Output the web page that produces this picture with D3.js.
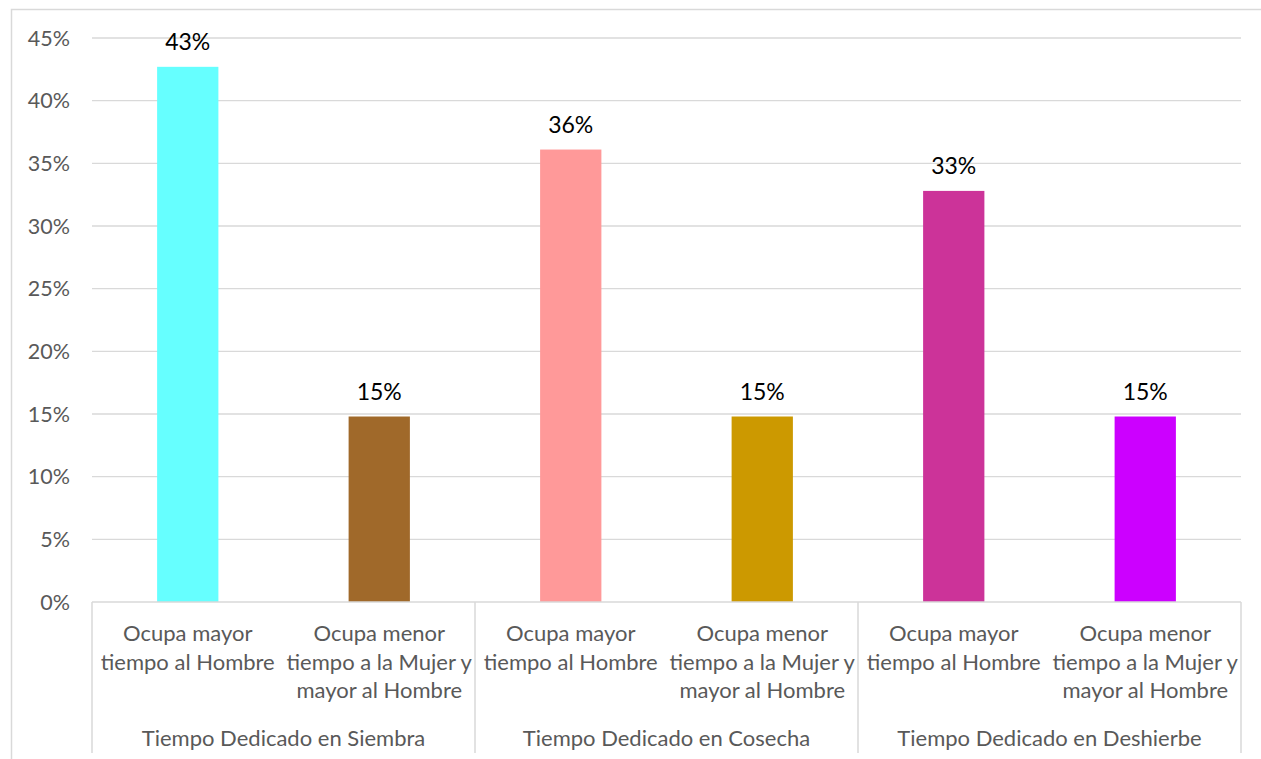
<!DOCTYPE html>
<html>
<head>
<meta charset="utf-8">
<script src="https://cdn.jsdelivr.net/npm/d3@7"></script>
<style>
  body { margin: 0; background: #fff; }
  svg text { font-family: Lato, "Open Sans", sans-serif; }
</style>
</head>
<body>
<svg id="chart" width="1261" height="759"></svg>
<script>
const groups = ["Tiempo Dedicado en Siembra", "Tiempo Dedicado en Cosecha", "Tiempo Dedicado en Deshierbe"];
const subLabels = [["Ocupa mayor", "tiempo al Hombre"], ["Ocupa menor", "tiempo a la Mujer y", "mayor al Hombre"]];
const values = [0.427, 0.148, 0.361, 0.148, 0.328, 0.148];
const labels = ["43%", "15%", "36%", "15%", "33%", "15%"];
const colors = ["#66FFFF", "#A0692A", "#FF9999", "#CC9900", "#CC3399", "#CC00FF"];
const yTicks = [0, 0.05, 0.1, 0.15, 0.2, 0.25, 0.3, 0.35, 0.4, 0.45];

const svg = d3.select("#chart");
const margin = {left: 92, right: 20, top: 38, bottom: 157};
const width = 1261, height = 759;

// outer chart border (right/bottom are cut off in the picture)
svg.append("rect")
    .attr("x", 11.5).attr("y", 9.5)
    .attr("width", 1300).attr("height", 800)
    .attr("fill", "none").attr("stroke", "#d9d9d9").attr("stroke-width", 1.5);

const x = d3.scaleBand()
    .domain(d3.range(values.length))
    .range([margin.left, width - margin.right])
    .paddingInner(0.68).paddingOuter(0.34);

const y = d3.scaleLinear()
    .domain([0, 0.45])
    .range([height - margin.bottom, margin.top]);

// gridlines
svg.append("g")
  .selectAll("line")
  .data(yTicks.slice(1))
  .join("line")
    .attr("x1", margin.left).attr("x2", width - margin.right)
    .attr("y1", d => y(d)).attr("y2", d => y(d))
    .attr("stroke", "#d9d9d9").attr("stroke-width", 1.3);

// y tick labels
svg.append("g")
  .selectAll("text")
  .data(yTicks)
  .join("text")
    .attr("x", 70).attr("y", d => y(d))
    .attr("dy", "0.35em")
    .attr("text-anchor", "end")
    .attr("font-size", 21.5)
    .attr("fill", "#595959")
    .text(d3.format(".0%"));

// bars
svg.append("g")
  .selectAll("rect")
  .data(values)
  .join("rect")
    .attr("x", (d, i) => x(i))
    .attr("y", d => y(d))
    .attr("width", x.bandwidth())
    .attr("height", d => y(0) - y(d))
    .attr("fill", (d, i) => colors[i]);

// data labels
svg.append("g")
  .selectAll("text")
  .data(values)
  .join("text")
    .attr("x", (d, i) => x(i) + x.bandwidth() / 2)
    .attr("y", d => y(d) - 17)
    .attr("text-anchor", "middle")
    .attr("font-size", 23)
    .attr("fill", "#000")
    .text((d, i) => labels[i]);

// x axis line
svg.append("line")
    .attr("x1", margin.left).attr("x2", width - margin.right)
    .attr("y1", y(0)).attr("y2", y(0))
    .attr("stroke", "#d9d9d9").attr("stroke-width", 1.5);

// group separators
const groupW = (width - margin.right - margin.left) / groups.length;
svg.append("g")
  .selectAll("line")
  .data(d3.range(groups.length + 1))
  .join("line")
    .attr("x1", d => margin.left + d * groupW).attr("x2", d => margin.left + d * groupW)
    .attr("y1", y(0)).attr("y2", 753)
    .attr("stroke", "#d9d9d9").attr("stroke-width", 1.5);

// category labels
const cat = svg.append("g")
  .selectAll("text")
  .data(values)
  .join("text")
    .attr("x", (d, i) => x(i) + x.bandwidth() / 2)
    .attr("y", 641)
    .attr("text-anchor", "middle")
    .attr("font-size", 22)
    .attr("fill", "#595959");
cat.selectAll("tspan")
  .data((d, i) => subLabels[i % 2])
  .join("tspan")
    .attr("x", function() { return this.parentNode.getAttribute("x"); })
    .attr("dy", (d, j) => j === 0 ? 0 : 28.5)
    .text(d => d);

// group labels
svg.append("g")
  .selectAll("text")
  .data(groups)
  .join("text")
    .attr("x", (d, i) => margin.left + (i + 0.5) * groupW)
    .attr("y", 746)
    .attr("text-anchor", "middle")
    .attr("font-size", 22)
    .attr("fill", "#595959")
    .text(d => d);
</script>
</body>
</html>
